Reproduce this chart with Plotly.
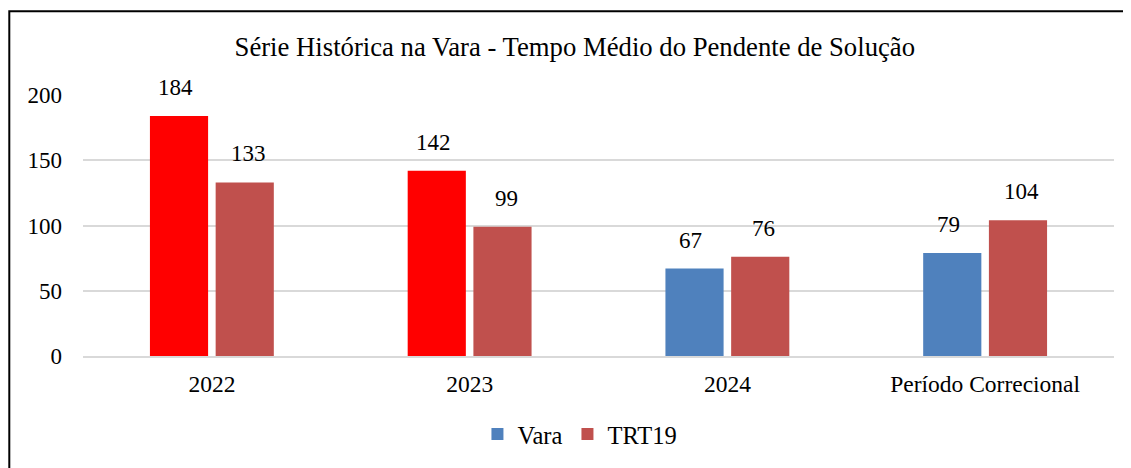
import plotly.graph_objects as go

categories = ["2022", "2023", "2024", "Período Correcional"]
vara = [184, 142, 67, 79]
trt19 = [133, 99, 76, 104]
vara_colors = ["#FF0000", "#FF0000", "#4F81BD", "#4F81BD"]
title_text = "Série Histórica na Vara - Tempo Médio do Pendente de Solução"

FONT = "Liberation Serif, Times New Roman, serif"
W, H = 1123, 460
L, R, T, B = 75, 17, 87, 109
PH = H - T - B
PW = W - L - R

fig = go.Figure()
fig.add_trace(go.Bar(name="Vara", x=categories, y=vara, marker_color=vara_colors,
                     marker_line_width=0, showlegend=False))
fig.add_trace(go.Bar(name="TRT19", x=categories, y=trt19, marker_color="#C0504D",
                     marker_line_width=0, showlegend=False))
# legend entries (square swatches)
fig.add_trace(go.Scatter(name="Vara", x=[None], y=[None], mode="markers",
                         marker=dict(symbol="square", size=12, color="#4F81BD")))
fig.add_trace(go.Scatter(name="TRT19", x=[None], y=[None], mode="markers",
                         marker=dict(symbol="square", size=12, color="#C0504D")))

annos = []
for i, v in enumerate(vara):
    annos.append(dict(x=i, y=v, text=str(v), showarrow=False, xshift=-36.5, yshift=14,
                      yanchor="bottom", font=dict(family=FONT, size=23, color="black")))
for i, v in enumerate(trt19):
    annos.append(dict(x=i, y=v, text=str(v), showarrow=False, xshift=36.5, yshift=14,
                      yanchor="bottom", font=dict(family=FONT, size=23, color="black")))

bx0 = (1.3 - L) / PW
by1 = 1 + (T - 2.3) / PH
border_path = f"M {bx0},-0.8 L {bx0},{by1} L 1.3,{by1}"

fig.update_layout(
    width=W, height=H,
    margin=dict(l=L, r=R, t=T, b=B),
    paper_bgcolor="white", plot_bgcolor="white",
    barmode="group", bargap=0.49, bargroupgap=0.115,
    font=dict(family=FONT, size=23, color="black"),
    title=dict(text=title_text, x=0.477, xref="paper", y=1 - 39 / H, yanchor="middle",
               xanchor="center", font=dict(family=FONT, size=26.7, color="black")),
    showlegend=True,
    legend=dict(orientation="h", x=0.482, xanchor="center", y=-0.299, yanchor="middle",
                font=dict(family=FONT, size=24.5), traceorder="normal",
                itemwidth=30),
    annotations=annos,
    xaxis=dict(type="category", range=[-0.5, len(categories) - 0.5], showline=True,
               linecolor="#D9D9D9", linewidth=2, ticks="",
               tickfont=dict(family=FONT, size=23.5), ticklabelstandoff=6),
    yaxis=dict(range=[0, 200], tickvals=[0, 50, 100, 150, 200], showgrid=True,
               gridcolor="#D9D9D9", gridwidth=2, zeroline=False, showline=False,
               ticks="", tickfont=dict(family=FONT, size=23), ticklabelstandoff=20),
    shapes=[dict(type="path", xref="paper", yref="paper", path=border_path,
                 line=dict(color="black", width=2), layer="above")],
)

fig.write_html("out.html")
